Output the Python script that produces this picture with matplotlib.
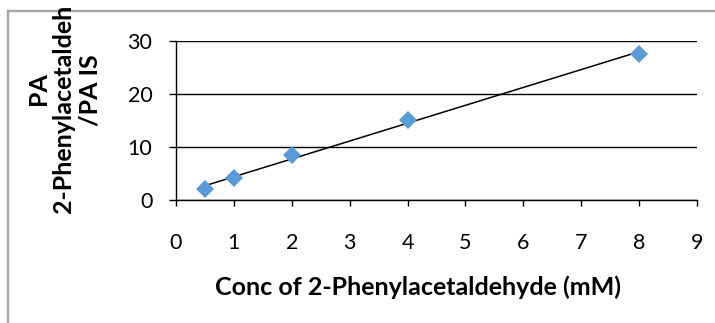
import numpy as np
import matplotlib
matplotlib.use("Agg")
import matplotlib.pyplot as plt
from matplotlib.lines import Line2D

# Data
conc_mM = [0.5, 1, 2, 4, 8]
ratio = [2.0, 4.1, 8.5, 15.1, 27.5]
x_ticks = [0, 1, 2, 3, 4, 5, 6, 7, 8, 9]
y_ticks = [0, 10, 20, 30]
x_title = "Conc of 2-Phenylacetaldehyde (mM)"
y_title_lines = ["PA", "2-Phenylacetaldeh", "/PA IS"]

W, H = 715, 323
fig = plt.figure(figsize=(W / 100, H / 100), dpi=100)
plt.rcParams['font.family'] = ['Lato', 'DejaVu Sans']

L, R, T, B = 176, 697, 40.7, 200
ax = fig.add_axes([L / W, 1 - B / H, (R - L) / W, (B - T) / H])

# trendline from linear regression
slope, intercept = np.polyfit(conc_mM, ratio, 1)
xs = np.array([min(conc_mM), max(conc_mM)])
ax.plot(xs, slope * xs + intercept, color='black', lw=1.1, zorder=3)

ax.plot(conc_mM, ratio, linestyle='none', marker='D', markersize=9.5,
        color='#5B9BD5', markeredgewidth=0, zorder=4)

ax.set_xlim(0, 9)
ax.set_ylim(0, 30)
ax.set_xticks(x_ticks)
ax.set_yticks(y_ticks)
ax.grid(axis='y', color='black', lw=1.0)
ax.set_axisbelow(True)
for s in ['top', 'right']:
    ax.spines[s].set_visible(False)
for s in ['left', 'bottom']:
    ax.spines[s].set_color('black')
    ax.spines[s].set_linewidth(1.0)
ax.tick_params(axis='x', direction='out', length=4.5, width=1.0, pad=19,
               labelsize=15.5, colors='black')
ax.tick_params(axis='y', direction='out', length=5, width=1.0, pad=12,
               labelsize=15.5, colors='black')

fig.text(418 / W, 1 - 287 / H, x_title, ha='center', va='center',
         fontsize=18, fontweight='bold')

# y-axis title (three rotated lines, middle one truncated as in the reference)
fig.text(39 / W, 1 - 89 / H, y_title_lines[0], ha='center', va='center',
         rotation=90, fontsize=18, fontweight='bold')
fig.text(63 / W, 1 - 213 / H, y_title_lines[1], ha='center', va='bottom',
         rotation=90, fontsize=18, fontweight='bold')
fig.text(90 / W, 1 - 90 / H, y_title_lines[2], ha='center', va='center',
         rotation=90, fontsize=18, fontweight='bold')

# outer chart border (top and left visible)
grey = '#A6A6A6'
fig.add_artist(Line2D([8 / W, 8 / W], [0, 1 - 11 / H], color=grey, lw=1.7,
                      transform=fig.transFigure))
fig.add_artist(Line2D([8 / W, 1], [1 - 11 / H, 1 - 11 / H], color=grey, lw=1.7,
                      transform=fig.transFigure))

fig.savefig("out.png", dpi=100)
